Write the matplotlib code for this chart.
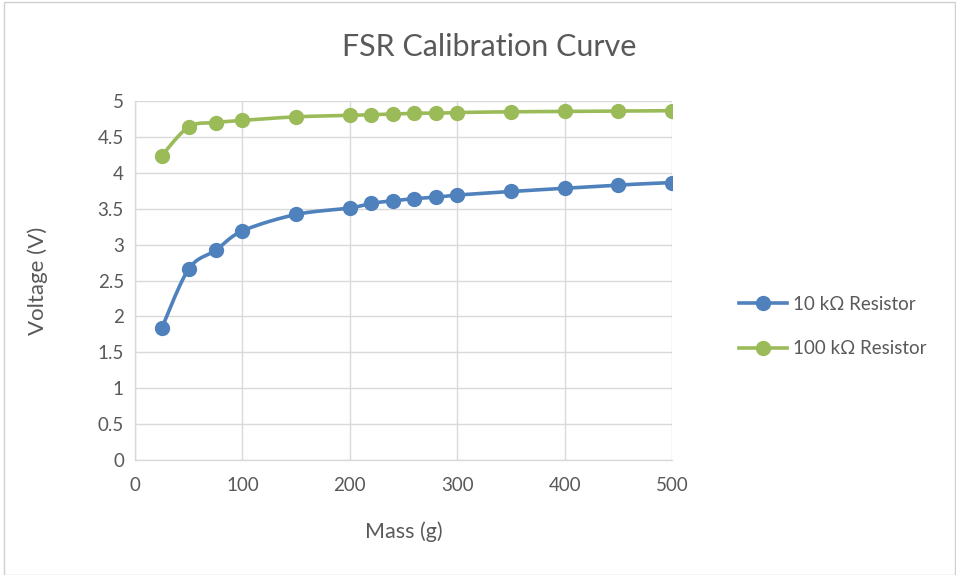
import numpy as np
import matplotlib
matplotlib.use("Agg")
import matplotlib.pyplot as plt
from matplotlib.lines import Line2D
from matplotlib.patches import Rectangle

# data
mass = [25, 50, 75, 100, 150, 200, 220, 240, 260, 280, 300, 350, 400, 450, 500]
v_10k = [1.84, 2.66, 2.92, 3.19, 3.42, 3.51, 3.575, 3.61, 3.64, 3.66, 3.69, 3.74, 3.785, 3.83, 3.865]
v_100k = [4.24, 4.64, 4.70, 4.73, 4.78, 4.80, 4.81, 4.82, 4.83, 4.83, 4.84, 4.85, 4.855, 4.86, 4.865]
series_names = ["10 kΩ Resistor", "100 kΩ Resistor"]

BLUE = "#4F81BD"
GREEN = "#9BBB59"
TXT = "#595959"
GRID = "#D9D9D9"


def smooth(x, y, n=20):
    # Excel style smoothed line: Catmull-Rom style bezier between points
    x = np.asarray(x, float)
    y = np.asarray(y, float)
    px, py = [], []
    t = np.linspace(0, 1, n)
    for i in range(len(x) - 1):
        x0, y0 = (x[i - 1], y[i - 1]) if i > 0 else (x[i], y[i])
        x3, y3 = (x[i + 2], y[i + 2]) if i + 2 < len(x) else (x[i + 1], y[i + 1])
        x1, y1, x2, y2 = x[i], y[i], x[i + 1], y[i + 1]
        c1x = x1 + (x2 - x0) / 6.0
        c1y = y1 + (y2 - y0) / 6.0
        c2x = x2 - (x3 - x1) / 6.0
        c2y = y2 - (y3 - y1) / 6.0
        bx = (1 - t) ** 3 * x1 + 3 * (1 - t) ** 2 * t * c1x + 3 * (1 - t) * t ** 2 * c2x + t ** 3 * x2
        by = (1 - t) ** 3 * y1 + 3 * (1 - t) ** 2 * t * c1y + 3 * (1 - t) * t ** 2 * c2y + t ** 3 * y2
        px.extend(bx)
        py.extend(by)
    return px, py


plt.rcParams['font.family'] = ['Lato', 'DejaVu Sans']

fig = plt.figure(figsize=(9.56, 5.75), dpi=100)
fig.patches.append(Rectangle((0.004, 0.0), 0.995, 0.996, transform=fig.transFigure,
                             fill=False, edgecolor="#D0D0D0", linewidth=1))
ax = fig.add_axes([0.1412, 0.2, 0.5618, 0.6243])

for yv, col in [(v_10k, BLUE), (v_100k, GREEN)]:
    sx, sy = smooth(mass, yv)
    ax.plot(sx, sy, color=col, linewidth=2.6, solid_capstyle="round", zorder=3)
    ax.plot(mass, yv, linestyle="none", marker="o", markersize=10, color=col, zorder=4)

ax.set_xlim(0, 500)
ax.set_ylim(0, 5)
ax.set_xticks(np.arange(0, 501, 100))
ax.set_yticks(np.arange(0, 5.01, 0.5))
ax.set_yticklabels(["0", "0.5", "1", "1.5", "2", "2.5", "3", "3.5", "4", "4.5", "5"])
ax.grid(True, color=GRID, linewidth=1)
ax.set_axisbelow(True)
for s in ["top", "right"]:
    ax.spines[s].set_visible(False)
for s in ["left", "bottom"]:
    ax.spines[s].set_color(GRID)
    ax.spines[s].set_linewidth(1)
ax.tick_params(length=0, labelsize=13.5, colors=TXT, pad=8)
ax.tick_params(axis="x", pad=12)

fig.text(0.512, 0.918, "FSR Calibration Curve", fontsize=22, color=TXT,
         ha="center", va="center")
ax.set_xlabel("Mass (g)", fontsize=15.5, color=TXT, labelpad=20)
ax.set_ylabel("Voltage (V)", fontsize=16, color=TXT, labelpad=36)

handles = [Line2D([0], [0], color=c, linewidth=2.6, marker="o", markersize=10)
           for c in (BLUE, GREEN)]
fig.legend(handles, series_names, loc="center left", bbox_to_anchor=(0.755, 0.432),
           frameon=False, fontsize=13.5, labelcolor=TXT, handlelength=2.6,
           labelspacing=1.45, handletextpad=0.3)

fig.savefig("out.png", dpi=100)
